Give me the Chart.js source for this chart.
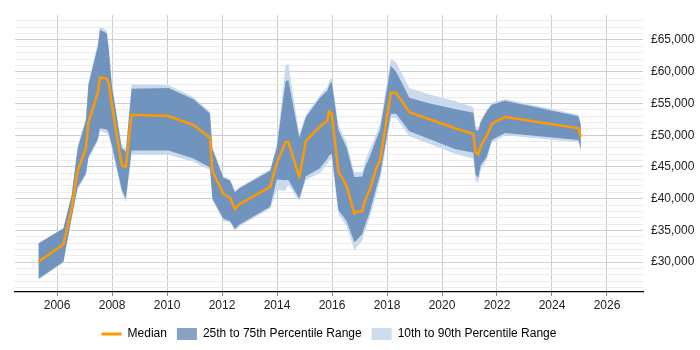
<!DOCTYPE html>
<html>
<head>
<meta charset="utf-8">
<script src="https://cdn.jsdelivr.net/npm/chart.js@4/dist/chart.umd.min.js"></script>
<style>
  html, body { margin: 0; padding: 0; background: #fff; }
  #wrap { width: 700px; height: 350px; }
</style>
</head>
<body>
<div id="wrap"><canvas id="myChart" width="700" height="350"></canvas></div>
<script>
// data (x = decimal year)

const years = [2005.32, 2006.23, 2006.53, 2006.75, 2007.05, 2007.14, 2007.48, 2007.56, 2007.81, 2007.88,
    2007.99, 2008.35, 2008.50, 2008.71, 2010.05, 2010.96, 2011.56, 2011.65, 2012.05, 2012.29,
    2012.47, 2012.62, 2013.75, 2013.99, 2014.31, 2014.41, 2014.81, 2015.05, 2015.56, 2015.83,
    2015.89, 2015.99, 2016.23, 2016.53, 2016.81, 2016.90, 2017.10, 2017.20, 2017.36, 2017.63,
    2017.75, 2018.14, 2018.33, 2018.81, 2019.56, 2020.47, 2021.14, 2021.22, 2021.32, 2021.41,
    2021.62, 2021.81, 2022.29, 2024.96, 2025.05]

const median = [30050, 32770, 38480, 44400, 47930, 51970, 56700, 59090, 58940, 58180,
    54900, 45300, 44950, 53230, 53030, 51600, 49600, 44290, 40760, 40150,
    38330, 39090, 41860, 45560, 48940, 48940, 43380, 49090, 51360, 52270,
    53790, 53380, 44290, 42020, 37620, 37990, 37990, 39740, 41260, 45050,
    46060, 56670, 56670, 53640, 52470, 51100, 50200, 47320, 46970, 48330,
    49850, 51770, 52880, 51100, 49740]

const p75 = [32920, 35300, 40500, 48000, 52370, 57920, 63980, 66600, 66000, 63500,
    57900, 48000, 47400, 57320, 57420, 55650, 53400, 47830, 43290, 42880,
    41010, 41600, 44400, 48080, 58440, 58680, 49600, 52880, 55910, 57000,
    57800, 58440, 50860, 48080, 43400, 43400, 43500, 45000, 46500, 49600,
    50900, 60950, 60000, 55910, 55000, 54140, 53530, 50860, 50700, 52100,
    53700, 54800, 55410, 52980, 51620]

const p25 = [27380, 30050, 37000, 41800, 44000, 46560, 49350, 51100, 50900, 50350,
    48500, 41500, 40000, 47590, 47590, 46320, 44910, 40010, 36830, 36470,
    35210, 35900, 38740, 43030, 42900, 43000, 40000, 43530, 44800, 46300,
    46800, 47070, 38230, 36470, 33180, 33500, 34440, 35800, 37730, 42000,
    43790, 53380, 53380, 50610, 49350, 47830, 47230, 43790, 43290, 45300,
    46560, 49240, 50350, 49240, 47830]

const p90 = [33000, 35400, 40700, 48300, 52700, 58300, 64400, 67100, 66500, 64000,
    58300, 48400, 47900, 58000, 57900, 56000, 53700, 48100, 43500, 43100,
    41200, 41800, 44600, 48400, 61000, 61200, 50200, 53200, 56300, 57600,
    58500, 59100, 51600, 48900, 44200, 44200, 44200, 46000, 47600, 50500,
    51900, 62000, 61500, 57400, 56400, 55400, 54400, 51500, 51200, 52400,
    54000, 55100, 55700, 53200, 51800]

const p10 = [27200, 29900, 36800, 41500, 43700, 46200, 49000, 50700, 50300, 49800,
    48000, 41000, 39400, 46900, 46900, 45800, 44500, 39700, 36500, 36200,
    35000, 35600, 38400, 41300, 41300, 42200, 39600, 43000, 44000, 45500,
    46000, 46300, 37600, 35600, 31900, 32300, 33400, 35000, 36800, 41000,
    43000, 52700, 52700, 49850, 48600, 47070, 46300, 42800, 42500, 44500,
    46000, 48800, 50000, 48900, 47500]

const yearTicks = [2006, 2008, 2010, 2012, 2014, 2016, 2018, 2020, 2022, 2024, 2026]

const seriesNames = ['Median', '25th to 75th Percentile Range', '10th to 90th Percentile Range']

// colours
const orange = '#ff9900'
const darkBand = '#7094be'
const lightBand = '#c9daed'
const darkLegend = '#86a3c5'
const lightLegend = '#cddcee'
const none = 'rgba(0,0,0,0)'

function pts(arr) {
    return years.map((x, i) => ({ x: x, y: arr[i] }))
}

const font = { family: "'Liberation Sans', Arial, sans-serif", size: 12 }

const ctx = document.getElementById('myChart').getContext('2d')
const myChart = new Chart(ctx, {
    type: 'line',
    data: {
        datasets: [
            { label: seriesNames[0], data: pts(median), borderColor: orange, borderWidth: 2.5, fill: false },
            { label: 'p75', data: pts(p75), borderColor: none, backgroundColor: darkBand, fill: '+1' },
            { label: 'p25', data: pts(p25), borderColor: none, fill: false },
            { label: 'p90', data: pts(p90), borderColor: none, backgroundColor: lightBand, fill: '+1' },
            { label: 'p10', data: pts(p10), borderColor: none, fill: false }
        ]
    },
    options: {
        responsive: false,
        animation: false,
        layout: { padding: { left: 15, top: 5, right: 0, bottom: 0 } },
        elements: {
            point: { radius: 0, hoverRadius: 0 },
            line: { tension: 0, borderJoinStyle: 'round' }
        },
        plugins: {
            tooltip: { enabled: false },
            legend: {
                position: 'bottom',
                fullSize: false,
                labels: {
                    usePointStyle: true,
                    pointStyleWidth: 20,
                    boxHeight: 12,
                    padding: 10,
                    color: '#222',
                    font: font,
                    generateLabels: () => [
                        { text: seriesNames[0], pointStyle: 'line', strokeStyle: orange, fillStyle: orange, lineWidth: 3, hidden: false, datasetIndex: 0 },
                        { text: seriesNames[1], pointStyle: 'rect', strokeStyle: darkLegend, fillStyle: darkLegend, lineWidth: 0, hidden: false, datasetIndex: 1 },
                        { text: seriesNames[2], pointStyle: 'rect', strokeStyle: lightLegend, fillStyle: lightLegend, lineWidth: 0, hidden: false, datasetIndex: 3 }
                    ]
                }
            }
        },
        scales: {
            x: {
                type: 'linear',
                min: 2004.47,
                max: 2027.31,
                afterBuildTicks: (scale) => { scale.ticks = yearTicks.map(v => ({ value: v })) },
                afterFit: (scale) => { scale.height = 26 },
                ticks: {
                    autoSkip: false,
                    maxRotation: 0,
                    padding: 2,
                    color: '#222',
                    font: font,
                    callback: (v) => String(v)
                },
                grid: { color: '#cccccc', tickLength: 4, tickColor: '#888' },
                border: { color: '#000', width: 1.2 }
            },
            y: {
                position: 'right',
                min: 25300,
                max: 68900,
                afterBuildTicks: (scale) => {
                    const t = []
                    for (let v = 26000; v <= 68000; v += 1000) t.push({ value: v })
                    scale.ticks = t
                },
                afterFit: (scale) => { scale.width = 57 },
                ticks: {
                    autoSkip: false,
                    padding: 8,
                    color: '#222',
                    font: font,
                    callback: (v) => v % 5000 === 0 ? '£' + v.toLocaleString('en-GB') : ''
                },
                grid: {
                    drawTicks: false,
                    color: (c) => c.tick && c.tick.value % 5000 === 0 ? '#cfcfcf' : '#ebebeb'
                },
                border: { display: false }
            }
        }
    }
})
</script>
</body>
</html>
